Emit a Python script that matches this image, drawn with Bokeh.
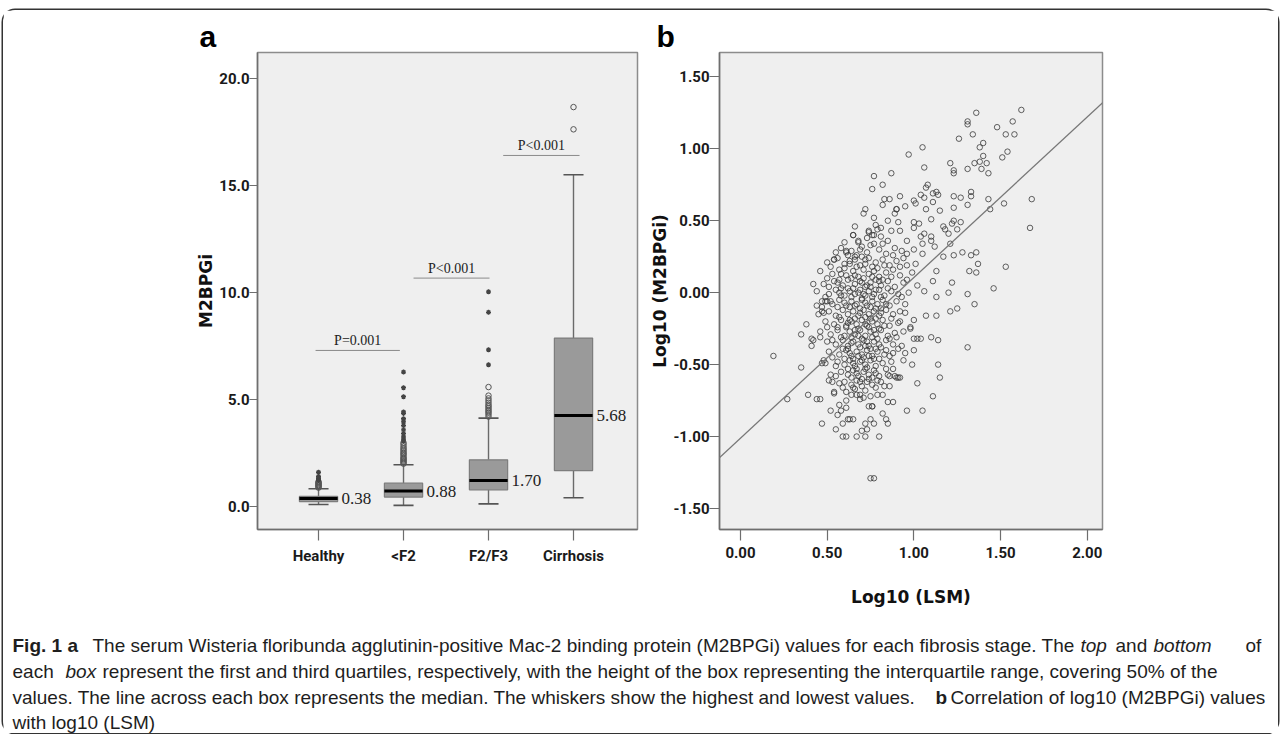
from bokeh.plotting import figure
from bokeh.models import Range1d, FixedTicker, NumeralTickFormatter, Label, Slope
from bokeh.layouts import column, row
from bokeh.embed import file_html
from bokeh.resources import INLINE

# ---------------- Panel a : box plot data ----------------
categories = ["Healthy", "<F2", "F2/F3", "Cirrhosis"]
cat_pos = [1, 2, 3, 4]
q1 = [0.23, 0.44, 0.78, 1.68]
medians = [0.37, 0.72, 1.21, 4.25]
q3 = [0.47, 1.09, 2.18, 7.87]
whisker_low = [0.09, 0.05, 0.12, 0.41]
whisker_high = [0.83, 1.95, 4.13, 15.5]
median_labels = ["0.38", "0.88", "1.70", "5.68"]

outlier_circles = [
    [0.88, 0.92, 0.96, 1.00, 1.04, 1.08, 1.12, 1.16],
    [2.00, 2.05, 2.10, 2.15, 2.20, 2.25, 2.30, 2.38, 2.45, 2.50, 2.58, 2.65, 2.72, 2.80, 2.90, 2.98],
    [4.20, 4.30, 4.38, 4.45, 4.52, 4.60, 4.68, 4.75, 4.85, 4.95, 5.05, 5.18, 5.58],
    [17.62, 18.66],
]
outlier_stars = [
    [1.22, 1.27, 1.32, 1.40, 1.60],
    [3.05, 3.15, 3.25, 3.40, 3.58, 3.78, 3.95, 4.10, 4.35, 4.42, 5.13, 5.55, 6.28],
    [6.62, 7.32, 9.07, 10.03],
    [],
]
p_texts = ["P=0.001", "P<0.001", "P<0.001"]

# ---------------- Panel b : scatter data (log10 LSM, log10 M2BPGi) ----------------
scatter_points = [
    # upper part
    (1.62, 1.27), (1.36, 1.25), (1.31, 1.19), (1.31, 1.17), (1.48, 1.15), (1.57, 1.19), (1.53, 1.10),
    (1.58, 1.10), (1.34, 1.10), (1.26, 1.07), (1.05, 1.01), (1.38, 1.01), (1.40, 1.04), (0.97, 0.96),
    (1.54, 0.98), (1.51, 0.94), (1.40, 0.95), (1.38, 0.91), (1.42, 0.90), (1.39, 0.86), (1.43, 0.83),
    (1.35, 0.90), (1.21, 0.90), (1.23, 0.85), (1.23, 0.83), (1.31, 0.86), (1.06, 0.87), (0.87, 0.83),
    (0.77, 0.81), (0.82, 0.75), (0.76, 0.72), (1.08, 0.75), (1.52, 0.62), (1.68, 0.65), (1.67, 0.45),
    (1.43, 0.65), (1.44, 0.58), (1.31, 0.61), (1.23, 0.67), (1.27, 0.66), (1.11, 0.69), (1.14, 0.68),
    (1.11, 0.63), (1.15, 0.57), (1.06, 0.66), (1.07, 0.73), (1.00, 0.64), (1.04, 0.68), (0.92, 0.67),
    (0.83, 0.65), (0.86, 0.65), (0.95, 0.60), (0.90, 0.58), (0.72, 0.58), (0.71, 0.55), (1.07, 0.58),
    (1.23, 0.59), (1.00, 0.49), (1.03, 0.48), (1.00, 0.45), (1.10, 0.51), (1.23, 0.50), (1.27, 0.49),
    (1.25, 0.44), (1.18, 0.44), (1.20, 0.41), (0.77, 0.52), (0.74, 0.43), (0.79, 0.44), (0.85, 0.50),
    (0.87, 0.43), (0.91, 0.49), (0.92, 0.43), (0.66, 0.46), (0.65, 0.40), (0.68, 0.36), (0.73, 0.38),
    (0.77, 0.40), (0.81, 0.39), (0.85, 0.36), (0.96, 0.36), (1.04, 0.39), (1.05, 0.34), (1.10, 0.36),
    (1.12, 0.32), (1.36, 0.28), (1.33, 0.26), (1.28, 0.28), (1.23, 0.26), (1.17, 0.25), (0.61, 0.28),
    (0.66, 0.25), (0.54, 0.23), (1.01, 0.62), (1.13, 0.70), (1.33, 0.70), (1.33, 0.67), (1.17, 0.46),
    (0.82, 0.61), (0.89, 0.55), (0.90, 0.58), (0.81, 0.45), (0.78, 0.47), (1.22, 0.48),
    # right middle
    (1.53, 0.18), (1.46, 0.03), (1.37, 0.20), (1.36, 0.14), (1.32, 0.15), (1.31, -0.01), (1.35, -0.08),
    (1.22, 0.07), (1.20, 0.00), (1.21, -0.13), (1.25, -0.11), (1.31, -0.38), (1.14, -0.33), (1.10, -0.31),
    (1.13, -0.16), (1.13, -0.03), (1.11, 0.08), (1.13, 0.15), (1.04, -0.32), (1.02, -0.32), (1.00, -0.40),
    (0.98, -0.25), (1.00, -0.19), (1.07, -0.16), (1.06, 0.01), (1.05, 0.27), (1.06, 0.41), (1.10, 0.39),
    (0.96, 0.27), (0.96, 0.19), (1.21, 0.34), (1.00, -0.32), (0.98, -0.24), (0.95, -0.14), (0.94, -0.47),
    (0.95, -0.42), (0.91, -0.59), (0.91, -0.39), (0.89, -0.58),
    # lower right
    (0.99, -0.50), (1.14, -0.50), (1.15, -0.59), (1.11, -0.72), (1.02, -0.63), (0.96, -0.82), (1.05, -0.82),
    (0.92, -0.59),
    # lower part
    (0.35, -0.52), (0.27, -0.74), (0.39, -0.71), (0.44, -0.74), (0.46, -0.74), (0.47, -0.91), (0.52, -0.82),
    (0.54, -0.69), (0.55, -0.95), (0.56, -0.85), (0.58, -0.82), (0.59, -0.91), (0.59, -1.00), (0.61, -1.00),
    (0.61, -0.75), (0.61, -0.80), (0.62, -0.88), (0.63, -0.88), (0.65, -0.88), (0.67, -1.00), (0.70, -0.96),
    (0.72, -1.00), (0.72, -0.91), (0.73, -0.95), (0.75, -0.88), (0.76, -0.79), (0.77, -0.91), (0.80, -1.00),
    (0.82, -0.84), (0.84, -0.88), (0.85, -0.91), (0.85, -0.76), (0.88, -0.76), (0.75, -1.29), (0.77, -1.29),
    (0.47, -0.49), (0.49, -0.49), (0.52, -0.57), (0.51, -0.61), (0.53, -0.62), (0.55, -0.58), (0.55, -0.51),
    (0.54, -0.70), (0.57, -0.78), (0.59, -0.66), (0.61, -0.69), (0.64, -0.71), (0.65, -0.66), (0.67, -0.71),
    (0.69, -0.71), (0.71, -0.73), (0.74, -0.79), (0.76, -0.79), (0.79, -0.71), (0.82, -0.71), (0.83, -0.65),
    (0.85, -0.57), (0.86, -0.58), (0.90, -0.59), (0.86, -0.65),
    # left part
    (0.19, -0.44), (0.35, -0.29), (0.38, -0.22), (0.42, 0.06), (0.41, -0.37), (0.44, -0.09), (0.47, -0.13),
    (0.46, -0.31), (0.49, -0.06), (0.52, -0.06), (0.42, -0.33), (0.48, -0.47), (0.41, -0.32), (0.47, -0.10),
    (0.48, -0.14), (0.50, -0.06), (0.51, 0.04), (0.50, 0.10), (0.54, 0.23), (0.56, 0.07), (0.58, 0.13),
    (0.58, 0.03), (0.57, 0.00), (0.61, 0.29), (0.62, 0.26), (0.63, 0.20), (0.65, 0.40), (0.68, 0.35),
    (0.67, 0.26), (0.72, 0.23), (0.74, 0.42), (0.76, 0.40), (0.77, 0.34),
    # dense core
    (0.58, 0.31), (0.64, 0.29), (0.70, 0.32), (0.73, 0.28), (0.80, 0.30), (0.84, 0.27), (0.89, 0.31),
    (0.93, 0.29), (1.00, 0.30),
    (0.50, 0.21), (0.56, 0.24), (0.60, 0.20), (0.66, 0.23), (0.69, 0.19), (0.74, 0.24), (0.78, 0.21),
    (0.82, 0.23), (0.86, 0.19), (0.90, 0.22), (0.94, 0.24), (1.01, 0.20),
    (0.46, 0.15), (0.53, 0.13), (0.57, 0.16), (0.61, 0.12), (0.65, 0.15), (0.68, 0.11), (0.71, 0.16),
    (0.74, 0.13), (0.77, 0.15), (0.80, 0.11), (0.84, 0.14), (0.88, 0.16), (0.92, 0.12), (0.99, 0.14),
    (0.48, 0.06), (0.54, 0.08), (0.59, 0.05), (0.62, 0.09), (0.66, 0.06), (0.69, 0.08), (0.72, 0.04),
    (0.75, 0.07), (0.78, 0.09), (0.81, 0.05), (0.85, 0.08), (0.89, 0.04), (0.94, 0.07), (1.02, 0.05),
    (0.44, 0.01), (0.51, -0.01), (0.55, 0.02), (0.60, -0.02), (0.63, 0.01), (0.66, -0.01), (0.69, 0.02),
    (0.72, -0.02), (0.74, 0.01), (0.77, -0.01), (0.80, 0.02), (0.83, -0.02), (0.87, 0.01), (0.91, -0.01),
    (0.97, 0.00),
    (0.47, -0.06), (0.53, -0.08), (0.57, -0.05), (0.61, -0.09), (0.64, -0.06), (0.67, -0.08), (0.70, -0.05),
    (0.73, -0.09), (0.76, -0.06), (0.79, -0.08), (0.82, -0.05), (0.86, -0.09), (0.90, -0.06), (0.95, -0.08),
    (0.45, -0.15), (0.51, -0.13), (0.55, -0.16), (0.59, -0.12), (0.62, -0.15), (0.65, -0.13), (0.68, -0.16),
    (0.71, -0.12), (0.74, -0.15), (0.77, -0.13), (0.80, -0.16), (0.84, -0.12), (0.88, -0.15), (0.92, -0.13),
    (0.49, -0.20), (0.54, -0.22), (0.58, -0.19), (0.61, -0.23), (0.64, -0.20), (0.67, -0.22), (0.70, -0.19),
    (0.73, -0.23), (0.76, -0.20), (0.79, -0.22), (0.82, -0.19), (0.86, -0.23), (0.91, -0.21),
    (0.46, -0.27), (0.52, -0.29), (0.56, -0.26), (0.60, -0.30), (0.63, -0.27), (0.66, -0.29), (0.69, -0.26),
    (0.72, -0.30), (0.75, -0.27), (0.78, -0.29), (0.81, -0.26), (0.85, -0.30), (0.89, -0.28), (0.94, -0.27),
    (0.50, -0.34), (0.55, -0.36), (0.59, -0.33), (0.62, -0.37), (0.65, -0.34), (0.68, -0.36), (0.71, -0.33),
    (0.74, -0.37), (0.77, -0.34), (0.80, -0.36), (0.84, -0.33), (0.88, -0.36),
    (0.51, -0.41), (0.57, -0.43), (0.61, -0.40), (0.64, -0.44), (0.67, -0.41), (0.70, -0.43), (0.73, -0.40),
    (0.76, -0.44), (0.79, -0.41), (0.83, -0.43), (0.88, -0.42),
    (0.56, -0.48), (0.60, -0.50), (0.63, -0.47), (0.66, -0.51), (0.69, -0.48), (0.72, -0.50), (0.75, -0.47),
    (0.78, -0.51), (0.82, -0.49), (0.87, -0.48),
    (0.58, -0.55), (0.62, -0.57), (0.65, -0.54), (0.68, -0.58), (0.71, -0.55), (0.74, -0.57), (0.77, -0.54),
    (0.80, -0.58),
    (0.60, -0.62), (0.64, -0.64), (0.67, -0.61), (0.70, -0.65), (0.73, -0.62), (0.76, -0.64), (0.79, -0.61),
    (0.62, 0.03), (0.68, 0.00), (0.73, 0.05), (0.78, 0.02), (0.64, -0.03), (0.70, -0.04), (0.76, -0.03),
    (0.63, -0.10), (0.69, -0.11), (0.75, -0.10), (0.81, -0.11), (0.66, -0.18), (0.72, -0.17), (0.78, -0.18),
    (0.61, -0.24), (0.68, -0.25), (0.74, -0.24), (0.80, -0.25), (0.64, -0.31), (0.70, -0.32), (0.76, -0.31),
    (0.62, -0.39), (0.69, -0.38), (0.75, -0.39), (0.81, -0.38), (0.65, -0.46), (0.71, -0.45), (0.77, -0.46),
    (0.67, -0.53), (0.73, -0.52), (0.70, -0.60), (0.76, -0.59), (0.80, 0.08), (0.71, 0.10), (0.66, 0.12),
    (0.76, 0.18), (0.70, 0.25),
    (0.60, 0.17), (0.63, 0.22), (0.67, 0.18), (0.72, 0.20), (0.79, 0.17), (0.83, 0.19), (0.57, 0.09),
    (0.64, 0.10), (0.70, 0.07), (0.76, 0.11), (0.82, 0.09), (0.87, 0.11), (0.58, -0.02), (0.65, 0.03),
    (0.71, -0.01), (0.75, 0.04), (0.81, -0.03), (0.85, 0.03), (0.56, -0.10), (0.60, -0.07), (0.66, -0.09),
    (0.72, -0.07), (0.78, -0.11), (0.84, -0.08), (0.57, -0.17), (0.63, -0.19), (0.69, -0.14), (0.75, -0.18),
    (0.81, -0.14), (0.87, -0.18), (0.56, -0.24), (0.62, -0.21), (0.66, -0.26), (0.72, -0.22), (0.77, -0.26),
    (0.83, -0.23), (0.58, -0.31), (0.64, -0.35), (0.68, -0.30), (0.73, -0.34), (0.79, -0.32), (0.86, -0.32),
    (0.59, -0.39), (0.63, -0.42), (0.68, -0.44), (0.72, -0.37), (0.78, -0.39), (0.84, -0.40), (0.60, -0.46),
    (0.65, -0.49), (0.70, -0.47), (0.74, -0.44), (0.80, -0.46), (0.62, -0.53), (0.67, -0.56), (0.72, -0.53),
    (0.78, -0.56), (0.64, -0.59), (0.69, -0.62), (0.74, -0.60), (0.66, -0.67), (0.72, -0.68), (0.78, -0.66),
    (0.69, -0.74), (0.75, -0.72), (0.81, -0.62), (0.57, -0.63), (0.53, -0.45), (0.53, -0.33), (0.50, -0.24),
    (0.49, -0.03), (0.52, 0.18), (0.55, 0.28), (0.60, 0.35), (0.69, 0.30), (0.75, 0.33), (0.82, 0.34),
    (0.88, 0.26), (0.92, 0.18), (0.96, 0.09), (0.93, -0.03), (0.92, -0.20), (0.90, -0.31), (0.93, -0.37),
    (0.86, -0.44), (0.84, -0.53), (0.88, -0.53),
]
log_lsm = [pt[0] for pt in scatter_points]
log_m2bpgi = [pt[1] for pt in scatter_points]
fit_slope = 1.116
fit_intercept = -1.011

# ---------------- Caption text: (line, text, style, page x) ----------------
caption_segments = [
    (0, "Fig. 1 a", "bold", 12),
    (0, "The serum Wisteria floribunda agglutinin-positive Mac-2 binding protein (M2BPGi) values for each fibrosis stage. The", "normal", 92),
    (0, "top", "italic", 1080),
    (0, "and", "normal", 1115),
    (0, "bottom", "italic", 1153),
    (0, "of", "normal", 1245),
    (1, "each", "normal", 12),
    (1, "box", "italic", 65),
    (1, "represent the first and third quartiles, respectively, with the height of the box representing the interquartile range, covering 50% of the", "normal", 102),
    (2, "values. The line across each box represents the median. The whiskers show the highest and lowest values.", "normal", 12),
    (2, "b", "bold", 935),
    (2, "Correlation of log10 (M2BPGi) values", "normal", 950),
    (3, "with log10 (LSM)", "normal", 12),
]

# ---------------- styling constants ----------------
FRAME_BG = "#efefef"
AXIS_C = "#6e6e6e"
TICK_FONT = "Roboto"
TITLE_FONT = "DejaVu Sans"
ORIGIN_X = 3      # page position of the bordered block
ORIGIN_Y = 10


def style_axes(p):
    p.background_fill_color = FRAME_BG
    p.border_fill_color = "white"
    p.outline_line_color = "#8c8c8c"
    p.outline_line_width = 1.5
    p.xgrid.visible = False
    p.ygrid.visible = False
    for ax in (p.xaxis[0], p.yaxis[0]):
        ax.axis_line_color = AXIS_C
        ax.axis_line_width = 1.5
        ax.major_tick_line_color = AXIS_C
        ax.major_tick_line_width = 1.2
        ax.major_tick_in = 0
        ax.minor_tick_line_color = None
        ax.major_label_text_font = TICK_FONT
        ax.major_label_text_font_style = "bold"
        ax.major_label_text_font_size = "15px"
        ax.major_label_text_color = "#1a1a1a"
        ax.axis_label_text_font = TITLE_FONT
        ax.axis_label_text_font_style = "bold"
        ax.axis_label_text_font_size = "17px"
        ax.axis_label_text_color = "#111111"
    p.title.text_font = "Liberation Sans"
    p.title.text_font_style = "bold"
    p.title.text_font_size = "30px"
    p.title.text_color = "black"
    p.title.align = "left"
    p.title.standoff = 0


# ---------------- Panel a ----------------
pa = figure(width=637, height=610, output_backend="svg", toolbar_location=None, title="a",
            x_range=Range1d(0.282, 4.753), y_range=Range1d(-1.075, 21.21),
            min_border_left=257 - ORIGIN_X, min_border_right=3, min_border_top=52 - ORIGIN_Y,
            min_border_bottom=91)
style_axes(pa)
pa.title.offset = -58
pa.xaxis.ticker = FixedTicker(ticks=cat_pos)
pa.xaxis.major_label_overrides = {c: n for c, n in zip(cat_pos, categories)}
pa.xaxis.major_tick_out = 11
pa.xaxis.major_label_standoff = 6
pa.yaxis.ticker = FixedTicker(ticks=[0, 5, 10, 15, 20])
pa.yaxis.formatter = NumeralTickFormatter(format="0.0")
pa.yaxis.major_tick_out = 8
pa.yaxis.major_label_standoff = 0
pa.yaxis.axis_label = "M2BPGi"
pa.yaxis.axis_label_standoff = 0

box_w = 0.45
cap_half = 0.118
pa.segment(x0=cat_pos, y0=q3, x1=cat_pos, y1=whisker_high, line_color="#6a6a6a", line_width=1.4)
pa.segment(x0=cat_pos, y0=q1, x1=cat_pos, y1=whisker_low, line_color="#6a6a6a", line_width=1.4)
pa.segment(x0=[c - cap_half for c in cat_pos], y0=whisker_high, x1=[c + cap_half for c in cat_pos],
           y1=whisker_high, line_color="#555555", line_width=1.6)
pa.segment(x0=[c - cap_half for c in cat_pos], y0=whisker_low, x1=[c + cap_half for c in cat_pos],
           y1=whisker_low, line_color="#555555", line_width=1.6)
pa.vbar(x=cat_pos, width=box_w, bottom=q1, top=q3, fill_color="#9a9a9a", line_color="#7d7d7d", line_width=1.2)
pa.segment(x0=[c - box_w / 2 for c in cat_pos], y0=medians, x1=[c + box_w / 2 for c in cat_pos],
           y1=medians, line_color="black", line_width=3)

cx, cy, sx, sy = [], [], [], []
for c, circ, star in zip(cat_pos, outlier_circles, outlier_stars):
    cx += [c] * len(circ)
    cy += circ
    sx += [c] * len(star)
    sy += star
pa.scatter(x=cx, y=cy, marker="circle", size=5.5, fill_alpha=0, line_color="#555555", line_width=1)
pa.scatter(x=sx, y=sy, marker="asterisk", size=5, line_color="#444444", line_width=1.3)

for c, m, t in zip(cat_pos, medians, median_labels):
    pa.add_layout(Label(x=c + 0.27, y=m, text=t, text_font="Liberation Serif", text_font_size="17px",
                        text_baseline="middle", text_align="left", text_color="#222222"))

bracket_x0 = [0.965, 2.118, 3.173]
bracket_x1 = [1.957, 3.012, 4.071]
bracket_y = [7.29, 10.67, 16.4]
pa.segment(x0=bracket_x0, y0=bracket_y, x1=bracket_x1, y1=bracket_y, line_color="#8a8a8a", line_width=1)
for x0, x1, yb, t in zip(bracket_x0, bracket_x1, bracket_y, p_texts):
    pa.add_layout(Label(x=(x0 + x1) / 2, y=yb + 0.12, text=t, text_font="Liberation Serif",
                        text_font_size="14px", text_align="center", text_baseline="bottom",
                        text_color="#222222"))

# ---------------- Panel b ----------------
pb = figure(width=638, height=610, output_backend="svg", toolbar_location=None, title="b",
            x_range=Range1d(-0.121, 2.088), y_range=Range1d(-1.646, 1.669),
            min_border_left=79, min_border_right=176, min_border_top=52 - ORIGIN_Y, min_border_bottom=91)
style_axes(pb)
pb.title.offset = -63
pb.xaxis.ticker = FixedTicker(ticks=[0, 0.5, 1.0, 1.5, 2.0])
pb.xaxis.formatter = NumeralTickFormatter(format="0.00")
pb.xaxis.major_tick_out = 11
pb.xaxis.major_label_standoff = 6
pb.xaxis.axis_label = "Log10 (LSM)"
pb.xaxis.axis_label_standoff = 26
pb.yaxis.ticker = FixedTicker(ticks=[-1.5, -1.0, -0.5, 0, 0.5, 1.0, 1.5])
pb.yaxis.formatter = NumeralTickFormatter(format="0.00")
pb.yaxis.major_tick_out = 10
pb.yaxis.major_label_standoff = 0
pb.yaxis.axis_label = "Log10 (M2BPGi)"
pb.yaxis.axis_label_standoff = 0

pb.add_layout(Slope(gradient=fit_slope, y_intercept=fit_intercept, line_color="#777777", line_width=1.3))
pb.scatter(x=log_lsm, y=log_m2bpgi, marker="circle", size=5.5, fill_alpha=0,
           line_color="#3a3a3a", line_alpha=0.8, line_width=1)

# ---------------- Caption ----------------
CAP_W = 1275
CAP_H = 113
cap = figure(width=CAP_W, height=CAP_H, output_backend="svg", toolbar_location=None,
             x_range=Range1d(ORIGIN_X, ORIGIN_X + CAP_W), y_range=Range1d(CAP_H, 0),
             min_border_left=0, min_border_right=0, min_border_top=0, min_border_bottom=0)
cap.axis.visible = False
cap.grid.visible = False
cap.outline_line_color = None
cap.background_fill_color = "white"
cap.border_fill_color = "white"
line_y = [25, 51, 77, 102]
for ln, txt, style, xpos in caption_segments:
    cap.add_layout(Label(x=xpos, y=line_y[ln], text=txt, text_font="Liberation Sans",
                         text_font_style=style, text_font_size="19px", text_baseline="middle",
                         text_align="left", text_color="#1e1e1e"))

layout = column(row(pa, pb), cap,
                styles={"margin-top": f"{ORIGIN_Y}px", "margin-left": f"{ORIGIN_X}px",
                        "box-shadow": "0 0 0 1.5px #333333", "border-radius": "12px"})

open("out.html", "w").write(file_html(layout, INLINE))
